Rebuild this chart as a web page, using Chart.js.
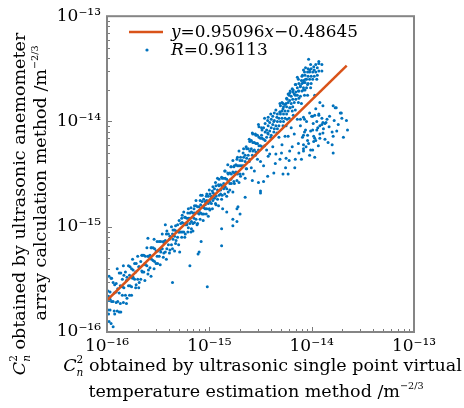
<!DOCTYPE html>
<html><head><meta charset="utf-8">
<script src="https://cdn.jsdelivr.net/npm/chart.js@4.4.1/dist/chart.umd.min.js"></script>
<style>html,body{margin:0;padding:0;background:#fff;}canvas{display:block;}</style>
</head><body>
<canvas id="c" width="464" height="408"></canvas>
<script>
// decade tick exponents (axis labels 10^-16 ... 10^-13)
const decadeExponents = [-16, -15, -14, -13];
// fitted line end points
const fitLineX = [1.0e-16, 2.2e-14];
const fitLineY = [2.0e-16, 3.4e-14];
const fitLabel = 'y=0.95096x−0.48645';
const corrLabel = 'R=0.96113';
// scatter points: [log10(single point method), log10(array method)]
const scatterLog = [
[-15.99,-15.61],[-15.99,-15.79],[-15.98,-15.90],[-15.98,-15.47],[-15.98,-15.70],
[-15.97,-15.62],[-15.97,-15.79],[-15.96,-15.49],[-15.96,-15.92],[-15.97,-15.69],
[-15.94,-15.53],[-15.94,-15.71],[-15.93,-15.80],[-15.93,-15.63],[-15.94,-15.95],
[-15.91,-15.54],[-15.91,-15.72],[-15.90,-15.40],[-15.90,-15.80],[-15.91,-15.62],
[-15.88,-15.44],[-15.88,-15.63],[-15.87,-15.73],[-15.87,-15.56],[-15.88,-15.81],
[-15.85,-15.50],[-15.85,-15.65],[-15.84,-15.37],[-15.84,-15.72],[-15.85,-15.57],
[-15.82,-15.43],[-15.82,-15.65],[-15.81,-15.51],[-15.81,-15.73],
[-15.79,-15.37],[-15.79,-15.56],[-15.78,-15.65],[-15.78,-15.46],
[-15.76,-15.40],[-15.76,-15.57],[-15.75,-15.31],[-15.75,-15.49],[-15.76,-15.65],
[-15.73,-15.35],[-15.73,-15.50],[-15.72,-15.58],[-15.72,-15.43],
[-15.70,-15.28],[-15.70,-15.50],[-15.69,-15.38],[-15.69,-15.58],
[-15.67,-15.33],[-15.67,-15.50],[-15.66,-15.27],[-15.66,-15.42],
[-15.64,-15.27],[-15.64,-15.43],[-15.63,-15.51],[-15.63,-15.35],
[-15.61,-15.20],[-15.61,-15.37],[-15.60,-15.28],[-15.60,-15.45],
[-15.58,-15.27],[-15.58,-15.39],[-15.57,-15.20],[-15.57,-15.47],
[-15.55,-15.20],[-15.55,-15.32],[-15.54,-15.40],[-15.54,-15.12],
[-15.52,-15.23],[-15.52,-15.35],[-15.51,-15.14],[-15.51,-15.28],
[-15.49,-15.14],[-15.49,-15.28],[-15.48,-15.36],[-15.48,-15.22],
[-15.46,-15.07],[-15.46,-15.21],[-15.45,-15.14],[-15.45,-15.29],
[-15.43,-15.13],[-15.43,-15.24],[-15.42,-15.07],[-15.42,-15.31],[-15.43,-14.98],
[-15.40,-15.07],[-15.40,-15.17],[-15.39,-15.25],[-15.39,-15.12],
[-15.37,-15.00],[-15.37,-15.17],[-15.36,-15.07],[-15.36,-15.21],
[-15.34,-15.03],[-15.34,-15.09],[-15.33,-14.99],[-15.33,-15.16],[-15.34,-15.23],
[-15.31,-14.98],[-15.31,-15.10],[-15.30,-15.05],[-15.30,-15.17],
[-15.28,-14.97],[-15.28,-15.05],[-15.27,-14.92],[-15.27,-15.10],
[-15.25,-14.97],[-15.25,-15.05],[-15.24,-14.91],[-15.24,-15.10],[-15.25,-14.86],
[-15.22,-14.92],[-15.22,-14.98],[-15.21,-15.05],[-15.21,-14.87],[-15.22,-14.96],
[-15.19,-14.87],[-15.19,-14.97],[-15.18,-14.82],[-15.18,-15.05],[-15.19,-14.92],
[-15.16,-14.87],[-15.16,-14.97],[-15.15,-14.83],[-15.15,-14.92],[-15.16,-15.04],
[-15.13,-14.80],[-15.13,-14.93],[-15.12,-14.86],[-15.12,-14.98],[-15.13,-14.75],
[-15.10,-14.81],[-15.10,-14.88],[-15.09,-14.93],[-15.09,-14.75],[-15.10,-14.85],
[-15.07,-14.76],[-15.07,-14.88],[-15.06,-14.81],[-15.06,-14.94],[-15.07,-14.70],
[-15.04,-14.76],[-15.04,-14.83],[-15.03,-14.71],[-15.03,-14.88],[-15.04,-14.79],
[-15.01,-14.71],[-15.01,-14.78],[-15.00,-14.65],[-15.00,-14.83],[-15.01,-14.90],
[-14.98,-14.71],[-14.98,-14.78],[-14.97,-14.66],[-14.97,-14.83],[-14.98,-14.73],
[-14.95,-14.64],[-14.95,-14.73],[-14.94,-14.58],[-14.94,-14.78],[-14.95,-14.69],
[-14.92,-14.65],[-14.92,-14.74],[-14.91,-14.60],[-14.91,-14.80],[-14.92,-14.54],
[-14.89,-14.60],[-14.89,-14.69],[-14.88,-14.53],[-14.88,-14.74],[-14.89,-14.65],
[-14.86,-14.54],[-14.86,-14.64],[-14.85,-14.47],[-14.85,-14.69],[-14.86,-14.59],
[-14.83,-14.55],[-14.83,-14.64],[-14.82,-14.49],[-14.82,-14.41],[-14.83,-14.71],
[-14.80,-14.49],[-14.80,-14.59],[-14.79,-14.43],[-14.79,-14.55],[-14.80,-14.65],
[-14.77,-14.48],[-14.77,-14.37],[-14.76,-14.57],[-14.76,-14.43],[-14.77,-14.67],
[-14.74,-14.41],[-14.74,-14.48],[-14.73,-14.56],[-14.73,-14.36],
[-14.71,-14.42],[-14.71,-14.28],[-14.70,-14.50],[-14.70,-14.37],[-14.71,-14.58],
[-14.68,-14.37],[-14.68,-14.42],[-14.67,-14.30],[-14.67,-14.50],
[-14.65,-14.32],[-14.65,-14.38],[-14.64,-14.24],[-14.64,-14.45],[-14.65,-14.54],
[-14.62,-14.32],[-14.62,-14.26],[-14.61,-14.38],[-14.61,-14.17],
[-14.59,-14.26],[-14.59,-14.18],[-14.58,-14.32],[-14.58,-14.11],[-14.59,-14.44],[-14.58,-14.56],
[-14.56,-14.20],[-14.56,-14.27],[-14.55,-14.12],[-14.55,-14.32],[-14.56,-14.47],
[-14.53,-14.21],[-14.53,-14.13],[-14.52,-14.27],[-14.52,-14.03],[-14.53,-14.36],[-14.52,-14.58],
[-14.50,-14.16],[-14.50,-14.23],[-14.49,-14.06],[-14.49,-14.13],[-14.50,-14.38],[-14.50,-14.66],
[-14.47,-14.17],[-14.47,-14.06],[-14.46,-14.23],[-14.46,-13.97],[-14.47,-14.42],
[-14.44,-14.08],[-14.44,-14.15],[-14.43,-13.99],[-14.43,-14.11],[-14.44,-14.27],[-14.43,-14.52],
[-14.41,-14.09],[-14.41,-14.01],[-14.40,-14.15],[-14.40,-13.93],[-14.41,-14.31],
[-14.38,-14.03],[-14.38,-13.95],[-14.37,-14.10],[-14.37,-14.00],[-14.38,-14.24],[-14.37,-14.49],
[-14.35,-14.04],[-14.35,-13.89],[-14.34,-14.11],[-14.34,-13.96],[-14.35,-14.31],
[-14.32,-13.97],[-14.32,-14.04],[-14.31,-13.91],[-14.31,-13.83],[-14.32,-14.15],[-14.31,-14.36],
[-14.29,-13.97],[-14.29,-13.90],[-14.28,-14.04],[-14.28,-13.83],[-14.29,-14.22],[-14.28,-14.50],
[-14.26,-13.90],[-14.26,-13.97],[-14.25,-13.83],[-14.25,-14.04],[-14.26,-14.14],[-14.25,-14.35],
[-14.23,-13.90],[-14.23,-13.82],[-14.22,-13.75],[-14.22,-13.97],[-14.23,-14.14],[-14.22,-14.37],[-14.23,-14.50],
[-14.20,-13.83],[-14.20,-13.76],[-14.19,-13.90],[-14.19,-13.69],[-14.20,-14.06],[-14.19,-14.24],
[-14.17,-13.82],[-14.17,-13.74],[-14.16,-13.65],[-14.16,-13.89],[-14.17,-14.12],[-14.16,-14.36],
[-14.14,-13.75],[-14.14,-13.68],[-14.13,-13.82],[-14.13,-13.60],[-14.14,-13.98],[-14.13,-14.21],
[-14.11,-13.76],[-14.11,-13.67],[-14.10,-13.61],[-14.10,-13.83],[-14.11,-14.04],[-14.10,-14.36],
[-14.08,-13.68],[-14.08,-13.61],[-14.07,-13.75],[-14.07,-13.53],[-14.08,-13.96],[-14.07,-14.10],[-14.08,-14.26],
[-14.05,-13.68],[-14.05,-13.60],[-14.04,-13.53],[-14.04,-13.75],[-14.05,-14.00],[-14.04,-14.18],
[-14.02,-13.60],[-14.02,-13.53],[-14.01,-13.68],[-14.01,-13.46],[-14.02,-13.92],[-14.01,-14.09],[-14.02,-14.32],
[-13.99,-13.60],[-13.99,-13.53],[-13.98,-13.48],[-13.99,-13.95],[-13.98,-14.14],
[-13.96,-13.53],[-13.96,-13.46],[-13.95,-13.60],[-13.96,-13.88],[-13.95,-14.00],[-13.96,-14.18],
[-13.93,-13.52],[-13.93,-13.45],[-13.92,-13.82],[-13.93,-13.93],[-13.92,-14.04],
[-13.90,-13.46],[-13.90,-13.52],[-13.89,-13.85],[-13.90,-13.97],[-13.89,-14.11],
[-14.03,-13.41],[-13.93,-13.43],[-14.06,-13.49],
[-14.08,-13.51],[-14.02,-13.51],[-14.14,-13.58],[-14.09,-13.56],[-14.06,-13.60],[-14.08,-13.63],
[-14.11,-13.66],[-14.04,-13.65],[-14.08,-13.70],[-14.13,-13.71],[-14.18,-13.70],[-14.21,-13.71],
[-14.23,-13.74],[-14.16,-13.75],[-14.24,-13.79],[-14.26,-13.84],[-14.29,-13.82],[-14.28,-13.88],
[-14.21,-13.87],[-14.31,-13.91],[-14.18,-13.94],[-14.24,-13.98],[-13.97,-13.75],
[-13.89,-14.01],[-13.86,-14.01],[-13.90,-14.03],[-13.87,-14.02],[-13.93,-13.94],[-13.97,-13.94],
[-14.00,-13.95],[-13.94,-14.06],[-13.92,-14.16],[-13.97,-14.16],[-13.98,-14.19],[-14.03,-14.21],
[-13.99,-14.27],[-14.01,-14.27],[-14.08,-14.28],[-13.97,-14.34],[-14.08,-14.22],[-14.04,-14.13],
[-14.08,-14.13],[-14.09,-14.15],[-14.06,-14.08],[-13.99,-14.08],[-13.95,-14.08],[-13.87,-14.17],
[-13.92,-14.12],[-13.85,-13.98],[-14.07,-13.98],[-14.11,-13.98],
[-13.76,-13.87],[-13.71,-13.92],[-13.65,-14.08],[-13.69,-14.15],[-13.78,-13.99],[-13.80,-14.10],
[-13.79,-14.14],[-13.80,-14.22],[-13.79,-14.30],[-13.79,-13.85],[-13.72,-13.92],[-13.77,-13.87],
[-13.66,-13.99],[-13.83,-14.05],[-13.74,-14.03],[-13.84,-14.20],
[-15.36,-15.53],[-15.19,-15.37],[-15.10,-15.24],[-15.02,-15.57],[-15.29,-15.24],[-14.88,-15.18],
[-15.11,-15.26],[-15.08,-15.14],[-14.50,-14.68],[-14.47,-14.57],[-14.73,-14.83],[-14.77,-14.93],
[-14.88,-15.02],[-14.77,-14.99],[-14.73,-14.95],[-14.72,-14.81],[-14.87,-14.83],[-14.83,-14.86],
[-14.70,-14.88],[-14.65,-14.72],[-15.60,-15.11],
[-15.985,-15.66],[-15.985,-15.83],[-15.955,-15.49],[-15.955,-15.71],[-15.925,-15.83],[-15.925,-15.55],
[-15.895,-15.59],[-15.895,-15.71],[-15.865,-15.44],[-15.865,-15.81],[-15.835,-15.58],[-15.835,-15.46],
[-15.805,-15.68],[-15.805,-15.48],[-15.775,-15.38],[-15.775,-15.56],[-15.745,-15.48],[-15.745,-15.41],
[-15.715,-15.55],[-15.715,-15.35],
[-15.685,-15.38],[-15.685,-15.53],[-15.655,-15.27],[-15.655,-15.43],[-15.625,-15.36],[-15.625,-15.28],
[-15.595,-15.41],[-15.595,-15.28],[-15.565,-15.20],[-15.565,-15.31],[-15.535,-15.33],[-15.535,-15.21],
[-15.505,-15.23],[-15.505,-15.35],[-15.475,-15.14],[-15.475,-15.24],[-15.445,-15.25],[-15.445,-15.15],
[-15.415,-15.04],[-15.415,-15.21],[-15.385,-15.09],[-15.385,-15.22],[-15.355,-15.03],[-15.355,-15.12],
[-15.325,-15.13],[-15.325,-15.04],[-15.295,-14.94],[-15.295,-15.05],
[-15.265,-14.96],[-15.265,-15.05],[-15.265,-14.89],[-15.235,-14.98],[-15.235,-14.91],[-15.235,-15.07],
[-15.205,-14.92],[-15.205,-15.01],[-15.205,-14.83],[-15.175,-14.95],[-15.175,-14.86],[-15.175,-15.02],
[-15.145,-14.87],[-15.145,-14.96],[-15.145,-14.80],[-15.115,-14.87],[-15.115,-14.81],[-15.115,-14.97],
[-15.085,-14.79],[-15.085,-14.87],[-15.085,-14.70],[-15.055,-14.82],[-15.055,-14.74],[-15.055,-14.88],
[-15.025,-14.75],[-15.025,-14.83],[-15.025,-14.69],[-14.995,-14.76],[-14.995,-14.69],[-14.995,-14.84],
[-14.965,-14.68],[-14.965,-14.75],[-14.965,-14.62],[-14.935,-14.71],[-14.935,-14.61],[-14.935,-14.79],
[-14.905,-14.61],[-14.905,-14.70],[-14.905,-14.55],
[-14.875,-14.61],[-14.875,-14.54],[-14.875,-14.70],[-14.845,-14.54],[-14.845,-14.62],[-14.845,-14.47],
[-14.815,-14.57],[-14.815,-14.50],[-14.815,-14.67],[-14.785,-14.50],[-14.785,-14.43],[-14.785,-14.59],
[-14.755,-14.49],[-14.755,-14.42],[-14.755,-14.59],[-14.725,-14.42],[-14.725,-14.34],[-14.725,-14.50],
[-14.695,-14.42],[-14.695,-14.34],[-14.695,-14.52],[-14.665,-14.34],[-14.665,-14.26],[-14.665,-14.42],
[-14.635,-14.35],[-14.635,-14.26],[-14.635,-14.45],[-14.605,-14.28],[-14.605,-14.19],[-14.605,-14.36],
[-14.575,-14.28],[-14.575,-14.20],[-14.575,-14.12],[-14.545,-14.21],[-14.545,-14.29],[-14.545,-14.13],
[-14.515,-14.23],[-14.515,-14.15],[-14.515,-14.05],[-14.485,-14.16],[-14.485,-14.08],[-14.485,-14.24],
[-14.455,-14.18],[-14.455,-14.10],[-14.455,-14.02],[-14.425,-14.12],[-14.425,-14.04],[-14.425,-13.96],
[-14.395,-14.06],[-14.395,-14.13],[-14.395,-13.98],[-14.365,-14.07],[-14.365,-13.99],[-14.365,-13.92],
[-14.335,-14.00],[-14.335,-13.93],[-14.335,-14.07],[-14.305,-14.00],[-14.305,-13.93],[-14.305,-13.85],
[-14.275,-13.93],[-14.275,-13.86],[-14.275,-14.00],[-14.245,-13.93],[-14.245,-13.86],[-14.245,-13.78],
[-14.215,-13.87],[-14.215,-13.80],[-14.215,-13.73],[-14.185,-13.86],[-14.185,-13.79],[-14.185,-13.72],
[-14.155,-13.79],[-14.155,-13.72],[-14.155,-13.65],[-14.125,-13.78],[-14.125,-13.71],[-14.125,-13.64],
[-14.095,-13.71],[-14.095,-13.64],[-14.095,-13.57],[-14.065,-13.70],[-14.065,-13.63],[-14.065,-13.56],
[-14.035,-13.64],[-14.035,-13.57],[-14.035,-13.50],[-14.005,-13.64],[-14.005,-13.57],[-14.005,-13.50],
[-13.975,-13.57],[-13.975,-13.51],[-13.945,-13.56],[-13.945,-13.49],
[-14.215,-14.28],[-14.165,-14.44],[-14.125,-14.30],[-14.055,-14.24],[-13.985,-14.02],[-13.935,-14.23],
[-13.885,-14.07],[-13.825,-13.95],[-13.755,-14.09],[-13.705,-13.97],[-14.355,-14.40],[-14.425,-14.33],
[-14.295,-14.30],[-14.255,-14.44]
];

const SERIF = '"DejaVu Serif", "Liberation Serif", serif';
const SUP = {'-':'⁻','0':'⁰','1':'¹','2':'²','3':'³','4':'⁴','5':'⁵','6':'⁶','7':'⁷','8':'⁸','9':'⁹'};
const supText = s => String(s).split('').map(c => SUP[c] || c).join('');

function font(size, italic) { return (italic ? 'italic ' : '') + size + 'px ' + SERIF; }
function partWidth(ctx, p, S) {
  if (p.stack) return Math.max(...p.stack.map(q => { ctx.font = font(S * q.k, q.i); return ctx.measureText(q.t).width; }));
  ctx.font = font(S * (p.k || 1), p.i); return ctx.measureText(p.t).width;
}
function richWidth(ctx, parts, S) { return parts.reduce((a, p) => a + partWidth(ctx, p, S), 0); }
function drawRich(ctx, parts, x, base, S) {
  ctx.textBaseline = 'alphabetic'; ctx.textAlign = 'left'; ctx.fillStyle = '#000';
  for (const p of parts) {
    const w = partWidth(ctx, p, S);
    const items = p.stack ? p.stack : [p];
    for (const q of items) { ctx.font = font(S * (q.k || 1), q.i); ctx.fillText(q.t, x, base + (q.dy || 0) * S); }
    x += w;
  }
}
const cn2 = [{t:'C', i:true}, {stack:[{t:'2', k:0.6, dy:-0.45}, {t:'n', k:0.6, i:true, dy:0.3}]}];
const unit = [{t:' /m'}, {t:'−2/3', k:0.55, dy:-0.45}];
const xTitle1 = [...cn2, {t:' obtained by ultrasonic single point virtual'}];
const xTitle2 = [{t:'temperature estimation method'}, ...unit];
const yTitle1 = [...cn2, {t:' obtained by ultrasonic anemometer'}];
const yTitle2 = [{t:'array calculation method'}, ...unit];
const legend1 = [{t:'y', i:true}, {t:'=0.95096'}, {t:'x', i:true}, {t:'−0.48645'}];
const legend2 = [{t:'R', i:true}, {t:'=0.96113'}];

const framePlugin = {
  id: 'framePlugin',
  afterDraw(chart) {
    const ctx = chart.ctx, a = chart.chartArea, xs = chart.scales.x, ys = chart.scales.y;
    ctx.save();
    ctx.strokeStyle = '#7a7a7a'; ctx.lineWidth = 1;
    for (let e = -16; e < -13; e++) {
      for (let m = 1; m <= 9; m++) {
        const v = m * Math.pow(10, e);
        const L = m === 1 ? 5 : 3;
        const px = Math.round(xs.getPixelForValue(v)) + 0.5;
        ctx.beginPath(); ctx.moveTo(px, a.bottom); ctx.lineTo(px, a.bottom - L); ctx.stroke();
        const py = Math.round(ys.getPixelForValue(v)) + 0.5;
        ctx.beginPath(); ctx.moveTo(a.left, py); ctx.lineTo(a.left + L, py); ctx.stroke();
      }
    }
    ctx.strokeStyle = '#858585'; ctx.lineWidth = 2;
    ctx.strokeRect(a.left, a.top, a.right - a.left, a.bottom - a.top);
    let S = 18;
    S = S * 399 / richWidth(ctx, xTitle1, S);
    drawRich(ctx, xTitle1, 262.5 - richWidth(ctx, xTitle1, S) / 2, 371, S);
    drawRich(ctx, xTitle2, 256 - richWidth(ctx, xTitle2, S) / 2, 397, S);
    ctx.save(); ctx.translate(25, 204); ctx.rotate(-Math.PI / 2);
    drawRich(ctx, yTitle1, -richWidth(ctx, yTitle1, S) / 2, 0, S);
    ctx.restore();
    ctx.save(); ctx.translate(46, 183); ctx.rotate(-Math.PI / 2);
    drawRich(ctx, yTitle2, -richWidth(ctx, yTitle2, S) / 2, 0, S);
    ctx.restore();
    let L = 18; L = L * 187 / richWidth(ctx, legend1, L);
    ctx.strokeStyle = '#D95319'; ctx.lineWidth = 2.5;
    ctx.beginPath(); ctx.moveTo(129, 32); ctx.lineTo(163, 32); ctx.stroke();
    ctx.fillStyle = '#0072BD'; ctx.beginPath(); ctx.arc(147, 50, 1.6, 0, Math.PI * 2); ctx.fill();
    drawRich(ctx, legend1, 171, 37, L);
    drawRich(ctx, legend2, 171, 55, L);
    ctx.restore();
  }
};

const tickFont = { family: SERIF, size: 17 };
const decadeTicks = scale => { scale.ticks = decadeExponents.map(e => ({ value: Math.pow(10, e) })); };
const fmt = v => '10' + supText(Math.round(Math.log10(v)));

new Chart(document.getElementById('c'), {
  type: 'scatter',
  data: {
    datasets: [
      { type: 'line', label: fitLabel, data: fitLineX.map((x, i) => ({ x, y: fitLineY[i] })),
        borderColor: '#D95319', borderWidth: 2.5, pointRadius: 0, fill: false, tension: 0 },
      { label: corrLabel, data: scatterLog.map(([a, b]) => ({ x: Math.pow(10, a), y: Math.pow(10, b) })),
        backgroundColor: '#0072BD', borderWidth: 0, pointRadius: 1.5, pointHoverRadius: 1.5 }
    ]
  },
  options: {
    responsive: false, animation: false, devicePixelRatio: 1,
    layout: { padding: { top: 13, right: 50, left: 0, bottom: 0 } },
    plugins: { legend: { display: false }, tooltip: { enabled: false } },
    scales: {
      x: { type: 'logarithmic', min: 1e-16, max: 1e-13, afterBuildTicks: decadeTicks,
        afterFit: s => { s.height = 76; },
        grid: { display: false, drawTicks: false }, border: { display: false },
        ticks: { callback: fmt, font: tickFont, color: '#000', padding: 4, maxRotation: 0, autoSkip: false } },
      y: { type: 'logarithmic', min: 1e-16, max: 1e-13, afterBuildTicks: decadeTicks,
        afterFit: s => { s.width = 107; },
        grid: { display: false, drawTicks: false }, border: { display: false },
        ticks: { callback: fmt, font: tickFont, color: '#000', padding: 6, autoSkip: false } }
    }
  },
  plugins: [framePlugin]
});
</script>
</body></html>
